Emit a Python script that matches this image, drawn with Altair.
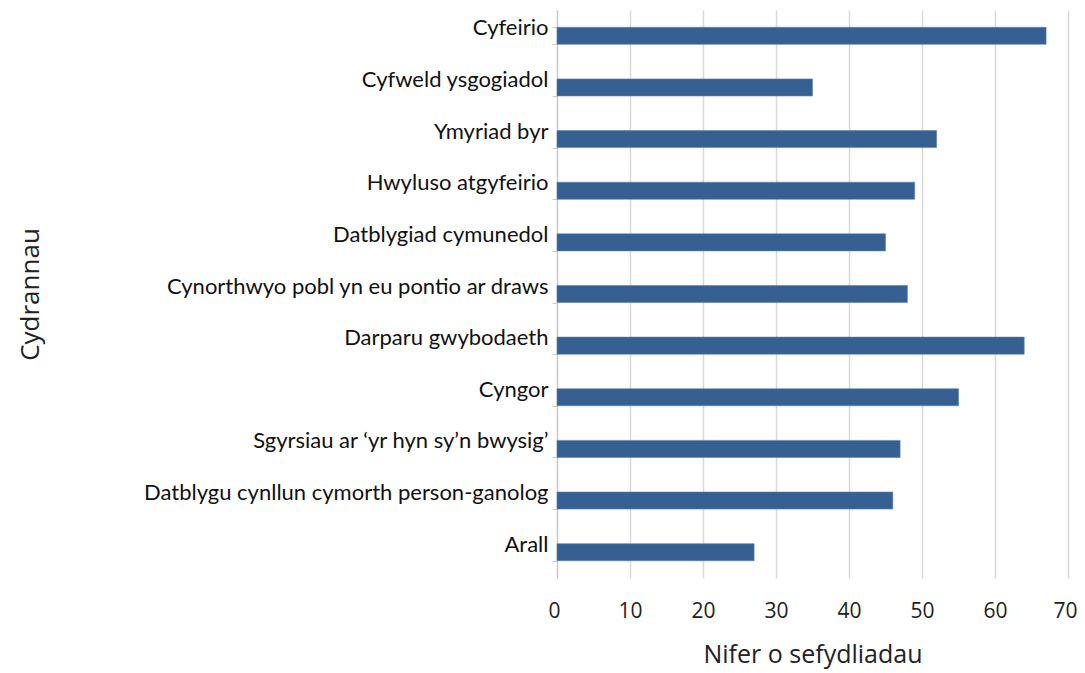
import altair as alt
import pandas as pd

categories = [
    "Cyfeirio",
    "Cyfweld ysgogiadol",
    "Ymyriad byr",
    "Hwyluso atgyfeirio",
    "Datblygiad cymunedol",
    "Cynorthwyo pobl yn eu pontio ar draws",
    "Darparu gwybodaeth",
    "Cyngor",
    "Sgyrsiau ar \u2018yr hyn sy\u2019n bwysig\u2019",
    "Datblygu cynllun cymorth person-ganolog",
    "Arall",
]
values = [67, 35, 52, 49, 45, 48, 64, 55, 47, 46, 27]
x_ticks = [0, 10, 20, 30, 40, 50, 60, 70]

df = pd.DataFrame({"cat": categories, "val": values})

chart = (
    alt.Chart(df)
    .mark_bar(color="#376092", stroke="#5a7fae", strokeWidth=0.6)
    .encode(
        x=alt.X(
            "val:Q",
            scale=alt.Scale(domain=[0, 70], nice=False),
            axis=alt.Axis(
                values=x_ticks,
                title="Nifer o sefydliadau",
                titleFont="Open Sans",
                titleFontSize=25,
                titleFontWeight="normal",
                titleColor="#222222",
                titlePadding=21,
                labelFont="Open Sans",
                labelFontSize=21,
                labelColor="#222222",
                labelPadding=22,
                labelFlush=True,
                labelFlushOffset=9,
                domain=False,
                ticks=False,
                grid=True,
                gridColor="#d9d9d9",
                gridWidth=1.5,
            ),
        ),
        y=alt.Y(
            "cat:N",
            sort=categories,
            scale=alt.Scale(paddingInner=0.67, paddingOuter=0.335),
            axis=alt.Axis(
                title="Cydrannau",
                titleFont="Open Sans",
                titleFontSize=26,
                titleFontWeight="normal",
                titleColor="#222222",
                titleAngle=-90,
                titleX=-527,
                titleY=284,
                titleAlign="center",
                titleBaseline="middle",
                labelFont="Lato",
                labelFontSize=22,
                labelColor="#111111",
                labelPadding=4,
                labelOffset=-8,
                labelLimit=520,
                domain=True,
                domainColor="#c8c8c8",
                domainWidth=1.2,
                ticks=True,
                tickBand="extent",
                tickSize=5,
                tickColor="#c8c8c8",
                grid=False,
            ),
        ),
    )
    .properties(
        width=511,
        height=568,
        autosize=alt.AutoSizeParams(type="none"),
        padding={"left": 549, "top": 2, "right": 9, "bottom": 95},
    )
    .configure_view(stroke=None)
)

chart.save("out.html", embed_options={"renderer": "svg", "actions": False})
